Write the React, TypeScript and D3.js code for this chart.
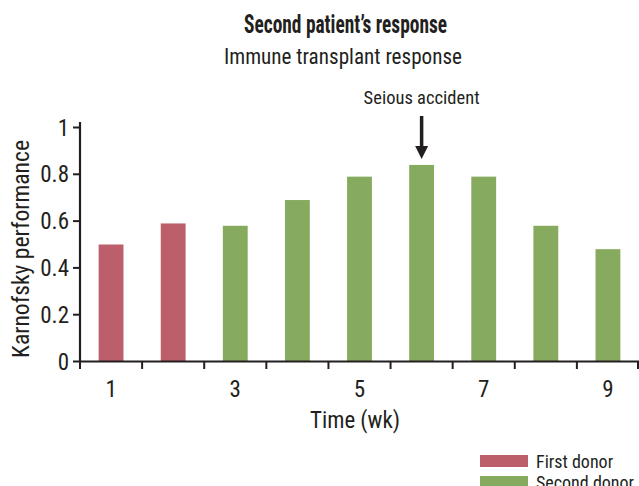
import React from "react";
import * as d3 from "d3";

const weeks = ["1", "2", "3", "4", "5", "6", "7", "8", "9"];
const values = [0.5, 0.59, 0.58, 0.69, 0.79, 0.84, 0.79, 0.58, 0.48];
const donors = ["First donor", "First donor", "Second donor", "Second donor", "Second donor", "Second donor", "Second donor", "Second donor", "Second donor"];
const legendLabels = ["First donor", "Second donor"];
const legendColors = ["#BC5F6A", "#86AB5F"];
const yTicks = [0, 0.2, 0.4, 0.6, 0.8, 1];
const xLabelWeeks = ["1", "3", "5", "7", "9"];
const annotationWeek = "6";
const annotationText = "Seious accident";

const W = 639, H = 486;
const FONT = "'Liberation Sans Narrow', 'Arial Narrow', 'Roboto Condensed', sans-serif";
const TXT = "#231f20";

export default function App() {
  const x = d3.scaleBand<string>().domain(weeks).range([80, 639]).paddingInner(0.6).paddingOuter(0.3);
  const step = x.step();
  const y = d3.scaleLinear().domain([0, 1]).range([361.5, 127.5]);
  const color = d3.scaleOrdinal<string, string>().domain(legendLabels).range(legendColors);
  const bandStart = (w: string) => 80 + weeks.indexOf(w) * step;
  const center = (w: string) => (x(w) ?? 0) + x.bandwidth() / 2;
  const ax = center(annotationWeek);

  return (
    <svg width={W} height={H} style={{ position: "absolute", left: 0, top: 0, background: "#fff" }} fontFamily={FONT}>
      <text x={345.5} y={33} textAnchor="middle" fontSize={25} fontWeight="bold" fill={TXT} textLength={203} lengthAdjust="spacingAndGlyphs">Second patient’s response</text>
      <text x={343} y={64} textAnchor="middle" fontSize={22.5} fill={TXT} textLength={238} lengthAdjust="spacingAndGlyphs">Immune transplant response</text>

      {weeks.map((w, i) => (
        <rect key={w} x={x(w)} y={y(values[i])} width={x.bandwidth()} height={y(0) - y(values[i])} fill={color(donors[i])} />
      ))}

      {/* y axis */}
      <line x1={80} x2={80} y1={122} y2={362} stroke={TXT} strokeWidth={2.2} />
      {yTicks.map(t => (
        <g key={t}>
          <line x1={73} x2={80} y1={y(t)} y2={y(t)} stroke={TXT} strokeWidth={2} />
          <text x={69} y={y(t) + 8} textAnchor="end" fontSize={23} fill={TXT}>{String(t)}</text>
        </g>
      ))}
      <text transform={`translate(29,249) rotate(-90)`} textAnchor="middle" fontSize={23.5} fill={TXT} textLength={218} lengthAdjust="spacingAndGlyphs">Karnofsky performance</text>

      {/* x axis */}
      <line x1={79} x2={639} y1={361.5} y2={361.5} stroke={TXT} strokeWidth={2.2} />
      {weeks.map(w => (
        <line key={w} x1={bandStart(w)} x2={bandStart(w)} y1={361} y2={369} stroke={TXT} strokeWidth={2} />
      ))}
      <line x1={638} x2={638} y1={361} y2={369} stroke={TXT} strokeWidth={2} />
      {xLabelWeeks.map(w => (
        <text key={w} x={center(w)} y={397} textAnchor="middle" fontSize={23} fill={TXT}>{w}</text>
      ))}
      <text x={355} y={428} textAnchor="middle" fontSize={24} fill={TXT} textLength={90} lengthAdjust="spacingAndGlyphs">Time (wk)</text>

      {/* annotation */}
      <text x={ax} y={104} textAnchor="middle" fontSize={18.5} fill={TXT} textLength={116} lengthAdjust="spacingAndGlyphs">{annotationText}</text>
      <line x1={ax} x2={ax} y1={116} y2={148} stroke={TXT} strokeWidth={3.5} />
      <path d={`M${ax - 6.5},146 L${ax + 6.5},146 L${ax},159 Z`} fill={TXT} />

      {/* legend */}
      {legendLabels.map((l, i) => (
        <g key={l}>
          <rect x={480} y={455 + i * 21} width={48} height={12} fill={legendColors[i]} />
          <text x={536} y={468 + i * 21} fontSize={18} fill={TXT}>{l}</text>
        </g>
      ))}
    </svg>
  );
}
